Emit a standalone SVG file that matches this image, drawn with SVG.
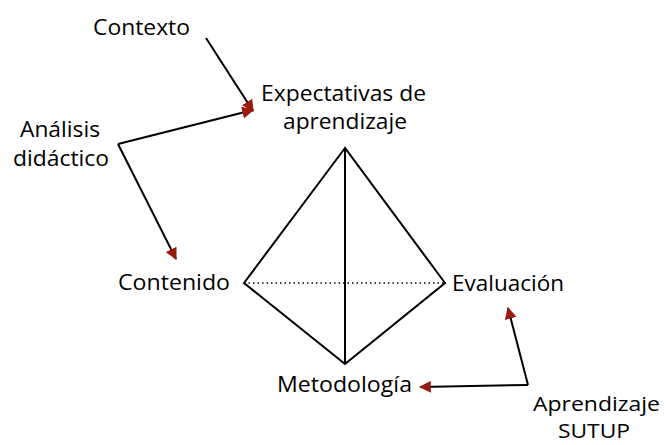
<svg xmlns="http://www.w3.org/2000/svg" width="668" height="445" viewBox="0 0 668 445">
<style>
text{font-family:"Open Sans","Liberation Sans",sans-serif;font-size:22px;fill:#000}
.s{font-size:20px}
.c{stroke:#000;stroke-width:2;fill:none}
.e{stroke:#000;stroke-width:2;fill:none;stroke-linejoin:miter}
</style>
<defs>
<marker id="ah" viewBox="0 0 10 10" refX="9" refY="5" markerWidth="6" markerHeight="6" orient="auto" markerUnits="strokeWidth">
<path d="M0,0 L10,5 L0,10 z" fill="#9a1a0e"/>
</marker>
</defs>
<rect width="668" height="445" fill="#fff"/>
<g id="tetrahedron">
<path class="e" d="M345,148 L244,283 L345,364 L445,283 Z"/>
<line class="e" x1="345" y1="148" x2="345" y2="364"/>
<line x1="244" y1="283" x2="445" y2="283" stroke="#000" stroke-width="1.5" stroke-dasharray="1.5,3"/>
</g>
<g id="contexto"><text x="93" y="35" textLength="97" lengthAdjust="spacingAndGlyphs">Contexto</text></g>
<g id="expectativas">
<text x="261" y="101" textLength="165" lengthAdjust="spacingAndGlyphs">Expectativas de</text>
<text x="283" y="129" textLength="124" lengthAdjust="spacingAndGlyphs">aprendizaje</text>
</g>
<g id="analisis">
<text x="20" y="137" textLength="80" lengthAdjust="spacingAndGlyphs">Análisis</text>
<text x="13" y="166" textLength="96" lengthAdjust="spacingAndGlyphs">didáctico</text>
</g>
<g id="contenido"><text x="118" y="290" textLength="112" lengthAdjust="spacingAndGlyphs">Contenido</text></g>
<g id="evaluacion"><text x="452" y="291" textLength="112" lengthAdjust="spacingAndGlyphs">Evaluación</text></g>
<g id="metodologia"><text x="277" y="392" textLength="135" lengthAdjust="spacingAndGlyphs">Metodología</text></g>
<g id="aprendizaje">
<text class="s" x="533" y="411" textLength="127" lengthAdjust="spacingAndGlyphs">Aprendizaje</text>
<text class="s" x="558" y="438" textLength="72" lengthAdjust="spacingAndGlyphs">SUTUP</text>
</g>
<g id="connectors">
<path class="c" d="M206,38 L253,111" marker-end="url(#ah)"/>
<path class="c" d="M118,144 L253,110" marker-end="url(#ah)"/>
<path class="c" d="M118,144 L176,259" marker-end="url(#ah)"/>
<path class="c" d="M528,385 L508,308" marker-end="url(#ah)"/>
<path class="c" d="M528,385 L420,387" marker-end="url(#ah)"/>
</g>
</svg>
